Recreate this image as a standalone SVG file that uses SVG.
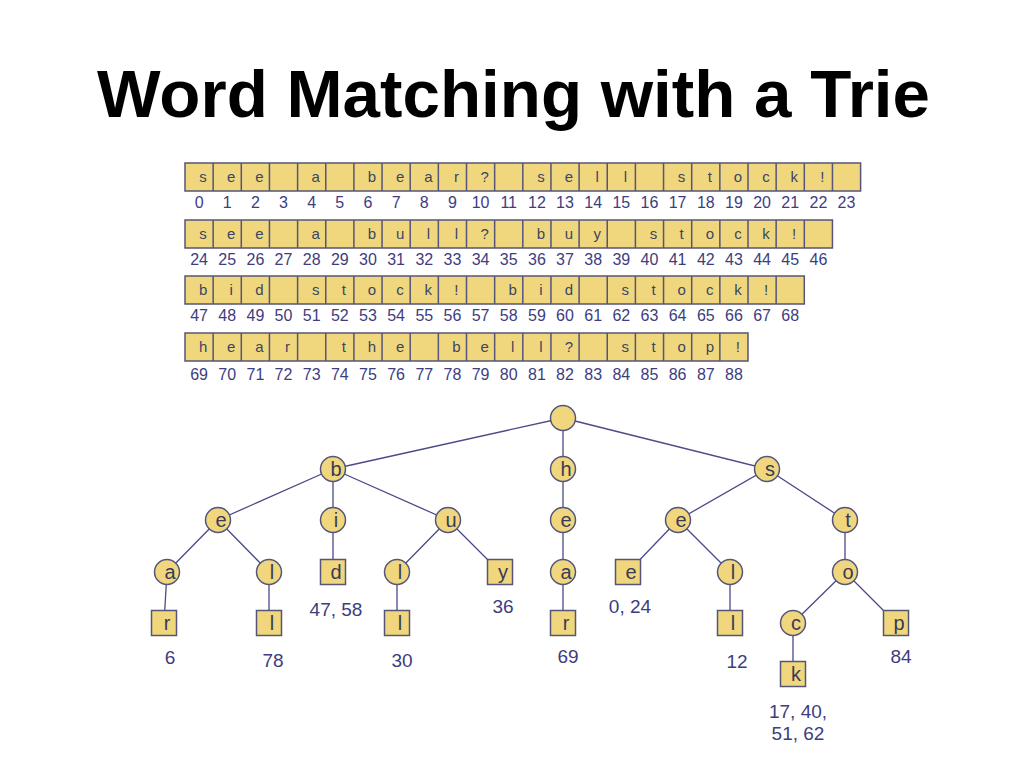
<svg xmlns="http://www.w3.org/2000/svg" width="1024" height="768" viewBox="0 0 1024 768">
<style>
.title{font-family:"Liberation Sans",Arial,sans-serif;font-weight:bold;font-size:67px;fill:#000}
.row{fill:#F0D77E;stroke:#55557a;stroke-width:1.5}
.div{stroke:#55557a;stroke-width:1.5;fill:none}
.ch{font-family:"Liberation Sans",Arial,sans-serif;font-size:15px;fill:#3a4662;text-anchor:middle}
.ix{font-family:"Liberation Sans",Arial,sans-serif;font-size:16px;fill:#3d3d80;text-anchor:middle}
.nd{fill:#F0D77E;stroke:#55557a;stroke-width:1.5}
.nl{font-family:"Liberation Sans",Arial,sans-serif;font-size:20px;fill:#3a3a55;text-anchor:middle}
.edge{stroke:#4a4a88;stroke-width:1.3;fill:none}
.occ{font-family:"Liberation Sans",Arial,sans-serif;font-size:19px;fill:#3d3d80;text-anchor:middle}
</style>
<rect width="1024" height="768" fill="#fff"/>
<text class="title" x="97" y="117" textLength="833" lengthAdjust="spacingAndGlyphs">Word Matching with a Trie</text>

<g id="text-array">
<rect class="row" x="185" y="163" width="675.6" height="28"/>
<path class="div" d="M213.15 163v28M241.3 163v28M269.45 163v28M297.6 163v28M325.75 163v28M353.9 163v28M382.05 163v28M410.2 163v28M438.35 163v28M466.5 163v28M494.65 163v28M522.8 163v28M550.95 163v28M579.1 163v28M607.25 163v28M635.4 163v28M663.55 163v28M691.7 163v28M719.85 163v28M748 163v28M776.15 163v28M804.3 163v28M832.45 163v28"/>
<rect class="row" x="185" y="220" width="647.45" height="28"/>
<path class="div" d="M213.15 220v28M241.3 220v28M269.45 220v28M297.6 220v28M325.75 220v28M353.9 220v28M382.05 220v28M410.2 220v28M438.35 220v28M466.5 220v28M494.65 220v28M522.8 220v28M550.95 220v28M579.1 220v28M607.25 220v28M635.4 220v28M663.55 220v28M691.7 220v28M719.85 220v28M748 220v28M776.15 220v28M804.3 220v28"/>
<rect class="row" x="185" y="276" width="619.3" height="28"/>
<path class="div" d="M213.15 276v28M241.3 276v28M269.45 276v28M297.6 276v28M325.75 276v28M353.9 276v28M382.05 276v28M410.2 276v28M438.35 276v28M466.5 276v28M494.65 276v28M522.8 276v28M550.95 276v28M579.1 276v28M607.25 276v28M635.4 276v28M663.55 276v28M691.7 276v28M719.85 276v28M748 276v28M776.15 276v28"/>
<rect class="row" x="185" y="333" width="563" height="28"/>
<path class="div" d="M213.15 333v28M241.3 333v28M269.45 333v28M297.6 333v28M325.75 333v28M353.9 333v28M382.05 333v28M410.2 333v28M438.35 333v28M466.5 333v28M494.65 333v28M522.8 333v28M550.95 333v28M579.1 333v28M607.25 333v28M635.4 333v28M663.55 333v28M691.7 333v28M719.85 333v28"/>

<text class="ch" y="182" x="203.1 231.2 259.4">see</text>
<text class="ch" y="182" x="315.7">a</text>
<text class="ch" y="182" x="372.0 400.1 428.3 456.4 484.6">bear?</text>
<text class="ch" y="182" x="540.9 569.0 597.2 625.3">sell</text>
<text class="ch" y="182" x="681.6 709.8 737.9 766.1 794.2 822.4">stock!</text>

<text class="ch" y="239" x="203.1 231.2 259.4">see</text>
<text class="ch" y="239" x="315.7">a</text>
<text class="ch" y="239" x="372.0 400.1 428.3 456.4 484.6">bull?</text>
<text class="ch" y="239" x="540.9 569.0 597.2">buy</text>
<text class="ch" y="239" x="653.5 681.6 709.8 737.9 766.1 794.2">stock!</text>

<text class="ch" y="295" x="203.1 231.2 259.4">bid</text>
<text class="ch" y="295" x="315.7 343.8 372.0 400.1 428.3 456.4">stock!</text>
<text class="ch" y="295" x="512.7 540.9 569.0">bid</text>
<text class="ch" y="295" x="625.3 653.5 681.6 709.8 737.9 766.1">stock!</text>

<text class="ch" y="352" x="203.1 231.2 259.4 287.5">hear</text>
<text class="ch" y="352" x="343.8 372.0 400.1">the</text>
<text class="ch" y="352" x="456.4 484.6 512.7 540.9 569.0">bell?</text>
<text class="ch" y="352" x="625.3 653.5 681.6 709.8 737.9">stop!</text>

<g class="ix">
<text x="199.1" y="208">0</text><text x="227.2" y="208">1</text><text x="255.4" y="208">2</text><text x="283.5" y="208">3</text><text x="311.7" y="208">4</text><text x="339.8" y="208">5</text><text x="368.0" y="208">6</text><text x="396.1" y="208">7</text><text x="424.3" y="208">8</text><text x="452.4" y="208">9</text><text x="480.6" y="208">10</text><text x="508.7" y="208">11</text><text x="536.9" y="208">12</text><text x="565.0" y="208">13</text><text x="593.2" y="208">14</text><text x="621.3" y="208">15</text><text x="649.5" y="208">16</text><text x="677.6" y="208">17</text><text x="705.8" y="208">18</text><text x="733.9" y="208">19</text><text x="762.1" y="208">20</text><text x="790.2" y="208">21</text><text x="818.4" y="208">22</text><text x="846.5" y="208">23</text>
<text x="199.1" y="265">24</text><text x="227.2" y="265">25</text><text x="255.4" y="265">26</text><text x="283.5" y="265">27</text><text x="311.7" y="265">28</text><text x="339.8" y="265">29</text><text x="368.0" y="265">30</text><text x="396.1" y="265">31</text><text x="424.3" y="265">32</text><text x="452.4" y="265">33</text><text x="480.6" y="265">34</text><text x="508.7" y="265">35</text><text x="536.9" y="265">36</text><text x="565.0" y="265">37</text><text x="593.2" y="265">38</text><text x="621.3" y="265">39</text><text x="649.5" y="265">40</text><text x="677.6" y="265">41</text><text x="705.8" y="265">42</text><text x="733.9" y="265">43</text><text x="762.1" y="265">44</text><text x="790.2" y="265">45</text><text x="818.4" y="265">46</text>
<text x="199.1" y="321">47</text><text x="227.2" y="321">48</text><text x="255.4" y="321">49</text><text x="283.5" y="321">50</text><text x="311.7" y="321">51</text><text x="339.8" y="321">52</text><text x="368.0" y="321">53</text><text x="396.1" y="321">54</text><text x="424.3" y="321">55</text><text x="452.4" y="321">56</text><text x="480.6" y="321">57</text><text x="508.7" y="321">58</text><text x="536.9" y="321">59</text><text x="565.0" y="321">60</text><text x="593.2" y="321">61</text><text x="621.3" y="321">62</text><text x="649.5" y="321">63</text><text x="677.6" y="321">64</text><text x="705.8" y="321">65</text><text x="733.9" y="321">66</text><text x="762.1" y="321">67</text><text x="790.2" y="321">68</text>
<text x="199.1" y="380">69</text><text x="227.2" y="380">70</text><text x="255.4" y="380">71</text><text x="283.5" y="380">72</text><text x="311.7" y="380">73</text><text x="339.8" y="380">74</text><text x="368.0" y="380">75</text><text x="396.1" y="380">76</text><text x="424.3" y="380">77</text><text x="452.4" y="380">78</text><text x="480.6" y="380">79</text><text x="508.7" y="380">80</text><text x="536.9" y="380">81</text><text x="565.0" y="380">82</text><text x="593.2" y="380">83</text><text x="621.3" y="380">84</text><text x="649.5" y="380">85</text><text x="677.6" y="380">86</text><text x="705.8" y="380">87</text><text x="733.9" y="380">88</text>
</g>
</g>

<g id="connectors" class="edge">
<path d="M563 418L333 469M563 418L563 469M563 418L767 469"/>
<path d="M333 469L218 520M333 469L333 520M333 469L448 520"/>
<path d="M218 520L167 572M218 520L269 572M333 520L333 572M448 520L397 572M448 520L500 572"/>
<path d="M167 572L164 623M269 572L269 623M397 572L397 623"/>
<path d="M563 469L563 520L563 572L563 623"/>
<path d="M767 469L678 520M767 469L845 520M678 520L628 572M678 520L730 572M730 572L730 623"/>
<path d="M845 520L845 572M845 572L793 623M845 572L896 623M793 623L793 674"/>
</g>

<g id="root"><circle class="nd" cx="563" cy="418" r="12.5"/></g>
<g id="n-b"><circle class="nd" cx="333" cy="469" r="12.5"/><text class="nl" x="336" y="476">b</text></g>
<g id="n-h"><circle class="nd" cx="563" cy="469" r="12.5"/><text class="nl" x="566" y="476">h</text></g>
<g id="n-s"><circle class="nd" cx="767" cy="469" r="12.5"/><text class="nl" x="770" y="476">s</text></g>
<g id="n-be"><circle class="nd" cx="218" cy="520" r="12.5"/><text class="nl" x="221" y="527">e</text></g>
<g id="n-bi"><circle class="nd" cx="333" cy="520" r="12.5"/><text class="nl" x="336" y="527">i</text></g>
<g id="n-bu"><circle class="nd" cx="448" cy="520" r="12.5"/><text class="nl" x="451" y="527">u</text></g>
<g id="n-he"><circle class="nd" cx="563" cy="520" r="12.5"/><text class="nl" x="566" y="527">e</text></g>
<g id="n-se"><circle class="nd" cx="678" cy="520" r="12.5"/><text class="nl" x="681" y="527">e</text></g>
<g id="n-st"><circle class="nd" cx="845" cy="520" r="12.5"/><text class="nl" x="848" y="527">t</text></g>
<g id="n-bea"><circle class="nd" cx="167" cy="572" r="12.5"/><text class="nl" x="170" y="579">a</text></g>
<g id="n-bel"><circle class="nd" cx="269" cy="572" r="12.5"/><text class="nl" x="272" y="579">l</text></g>
<g id="n-bid"><rect class="nd" x="320.5" y="559.5" width="25" height="25"/><text class="nl" x="336" y="579">d</text></g>
<g id="n-bul"><circle class="nd" cx="397" cy="572" r="12.5"/><text class="nl" x="400" y="579">l</text></g>
<g id="n-buy"><rect class="nd" x="487.5" y="559.5" width="25" height="25"/><text class="nl" x="503" y="579">y</text></g>
<g id="n-hea"><circle class="nd" cx="563" cy="572" r="12.5"/><text class="nl" x="566" y="579">a</text></g>
<g id="n-see"><rect class="nd" x="615.5" y="559.5" width="25" height="25"/><text class="nl" x="631" y="579">e</text></g>
<g id="n-sel"><circle class="nd" cx="730" cy="572" r="12.5"/><text class="nl" x="733" y="579">l</text></g>
<g id="n-sto"><circle class="nd" cx="845" cy="572" r="12.5"/><text class="nl" x="848" y="579">o</text></g>
<g id="n-bear"><rect class="nd" x="151.5" y="610.5" width="25" height="25"/><text class="nl" x="167" y="630">r</text></g>
<g id="n-bell"><rect class="nd" x="256.5" y="610.5" width="25" height="25"/><text class="nl" x="272" y="630">l</text></g>
<g id="n-bull"><rect class="nd" x="384.5" y="610.5" width="25" height="25"/><text class="nl" x="400" y="630">l</text></g>
<g id="n-hear"><rect class="nd" x="550.5" y="610.5" width="25" height="25"/><text class="nl" x="566" y="630">r</text></g>
<g id="n-sell"><rect class="nd" x="717.5" y="610.5" width="25" height="25"/><text class="nl" x="733" y="630">l</text></g>
<g id="n-stoc"><circle class="nd" cx="793" cy="623" r="12.5"/><text class="nl" x="796" y="630">c</text></g>
<g id="n-stop"><rect class="nd" x="883.5" y="610.5" width="25" height="25"/><text class="nl" x="899" y="630">p</text></g>
<g id="n-stock"><rect class="nd" x="780.5" y="661.5" width="25" height="25"/><text class="nl" x="796" y="681">k</text></g>

<g id="occurrences" class="occ">
<text x="170" y="664">6</text>
<text x="273" y="667">78</text>
<text x="336" y="616">47, 58</text>
<text x="402" y="667">30</text>
<text x="503" y="613">36</text>
<text x="568" y="663">69</text>
<text x="630" y="613">0, 24</text>
<text x="737" y="668">12</text>
<text x="901" y="663">84</text>
<text x="798" y="718">17, 40,</text>
<text x="798" y="740">51, 62</text>
</g>
</svg>
